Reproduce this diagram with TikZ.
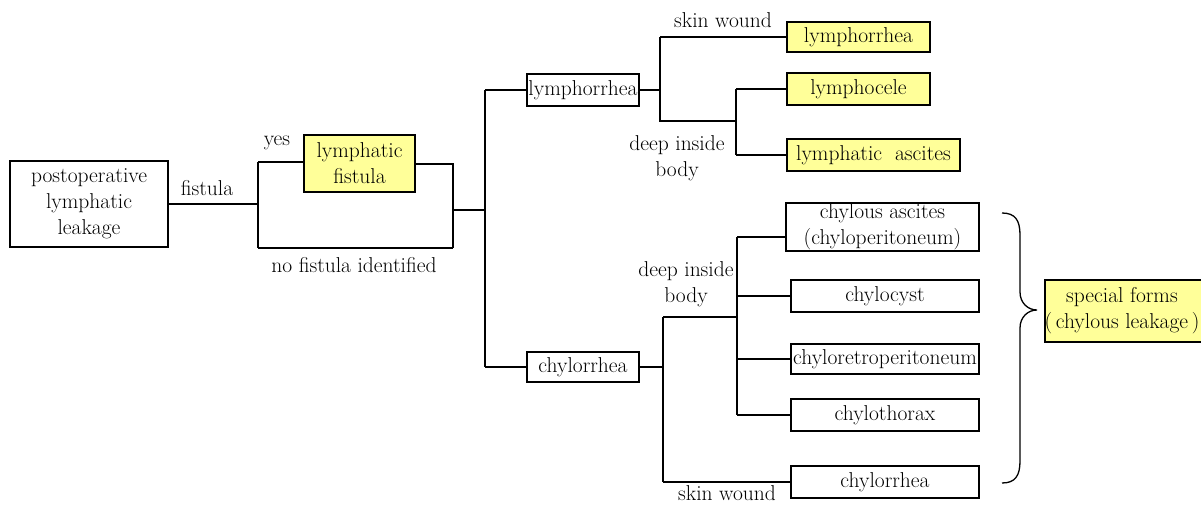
\documentclass[tikz,border=0pt]{standalone}
\usepackage{fontspec}
\definecolor{boxyellow}{RGB}{255,255,153}
\begin{document}
\begin{tikzpicture}[x=1pt,y=-1pt, line width=1.8pt,
  box/.style={draw, rectangle, inner sep=0pt, font=\rmfamily\fontsize{21.5}{26}\selectfont, align=center},
  ybox/.style={box, fill=boxyellow},
  lbl/.style={font=\rmfamily\fontsize{21.5}{26}\selectfont, align=center, inner sep=0pt},
  conn/.style={line width=1.8pt}
]
\useasboundingbox (0,0) rectangle (1201,504);
\clip (0,0) rectangle (1201,504);

% nodes
\node[box, minimum width=158pt, minimum height=86pt] (post) at (89,204) {postoperative\\lymphatic\\leakage};
\node[ybox, minimum width=111pt, minimum height=57pt] (lf) at (359.5,163.5) {lymphatic\\fistula};
\node[box, minimum width=112pt, minimum height=32pt] (lym) at (583,90) {lymphorrhea};
\node[box, minimum width=112pt, minimum height=30pt] (chy) at (583,367) {chylorrhea};
\node[ybox, minimum width=143pt, minimum height=30pt] (ly1) at (858.5,37) {lymphorrhea};
\node[ybox, minimum width=143pt, minimum height=32pt] (ly2) at (858.5,89) {lymphocele};
\node[ybox, minimum width=173pt, minimum height=32pt] (ly3) at (873.5,155) {lymphatic\ \ ascites};
\node[box, minimum width=193pt, minimum height=48pt] (c1) at (882.5,227) {chylous ascites\\(chyloperitoneum)};
\node[box, minimum width=188pt, minimum height=32pt] (c2) at (885,296) {chylocyst};
\node[box, minimum width=188pt, minimum height=30pt] (c3) at (885,359) {chyloretroperitoneum};
\node[box, minimum width=188pt, minimum height=32pt] (c4) at (885,415) {chylothorax};
\node[box, minimum width=188pt, minimum height=32pt] (c5) at (885,482) {chylorrhea};
\node[ybox, minimum width=170pt, minimum height=62pt] (sf) at (1130,311) {};
\node[lbl] (sft) at (1122,311) {special forms\\(\,chylous leakage\,)};

% labels
\node[lbl] (lfis) at (207,188) {fistula};
\node[lbl] (lyes) at (277,143) {yes};
\node[lbl] (lno) at (354,265) {no fistula identified};
\node[lbl] (lsk1) at (723,20) {skin wound};
\node[lbl] (ldp1) at (677,158) {deep inside\\body};
\node[lbl] (ldp2) at (686,284) {deep inside\\body};
\node[lbl] (lsk2) at (727,493) {skin wound};

% junction coordinates
\coordinate (j1t) at (258,162);
\coordinate (j1b) at (258,248);
\coordinate (j2t) at (453,164);
\coordinate (j2b) at (453,248);
\coordinate (j2m) at (453,210);
\coordinate (j3m) at (485,210);
\coordinate (j3t) at (485,90);
\coordinate (j3b) at (485,367);
\coordinate (j4t) at (660,37);
\coordinate (j4b) at (660,121);
\coordinate (j5b) at (736,121);
\coordinate (j5t) at (736,89);
\coordinate (j5c) at (736,155);
\coordinate (j6t) at (663,317);
\coordinate (j6b) at (663,482);
\coordinate (j7m) at (737,317);
\coordinate (j7a) at (737,237);
\coordinate (j7d) at (737,415);

% connectors
\draw[conn] (post.east) -- (post.east -| j1t);
\draw[conn] (j1t) -- (j1b);
\draw[conn] (j1t) -- (lf.west |- j1t);
\draw[conn] (j1b) -- (j2b);
\draw[conn] (lf.east |- j2t) -- (j2t) -- (j2b);
\draw[conn] (j2m) -- (j3m);
\draw[conn] (j3t) -- (j3b);
\draw[conn] (j3t) -- (lym.west);
\draw[conn] (j3b) -- (chy.west);
\draw[conn] (lym.east) -- (lym.east -| j4t);
\draw[conn] (j4t) -- (j4b) -- (j5b);
\draw[conn] (j4t) -- (ly1.west);
\draw[conn] (j5t) -- (j5c);
\draw[conn] (j5t) -- (ly2.west);
\draw[conn] (j5c) -- (ly3.west);
\draw[conn] (chy.east) -- (chy.east -| j6t);
\draw[conn] (j6t) -- (j6b);
\draw[conn] (j6t) -- (j7m);
\draw[conn] (j6b) -- (c5.west);
\draw[conn] (j7a) -- (j7d);
\draw[conn] (j7a) -- (c1.west |- j7a);
\draw[conn] (c2.west -| j7a) -- (c2.west);
\draw[conn] (c3.west -| j7a) -- (c3.west);
\draw[conn] (j7d) -- (c4.west);

% brace
\draw[line width=1.3pt] (1002,213) .. controls (1015,213) and (1020,220) .. (1020,235)
  -- (1020,292) .. controls (1020,303) and (1028,310) .. (1037,310)
  .. controls (1028,310) and (1020,317) .. (1020,328)
  -- (1020,461) .. controls (1020,476) and (1015,483) .. (1002,483);
\end{tikzpicture}
\end{document}
